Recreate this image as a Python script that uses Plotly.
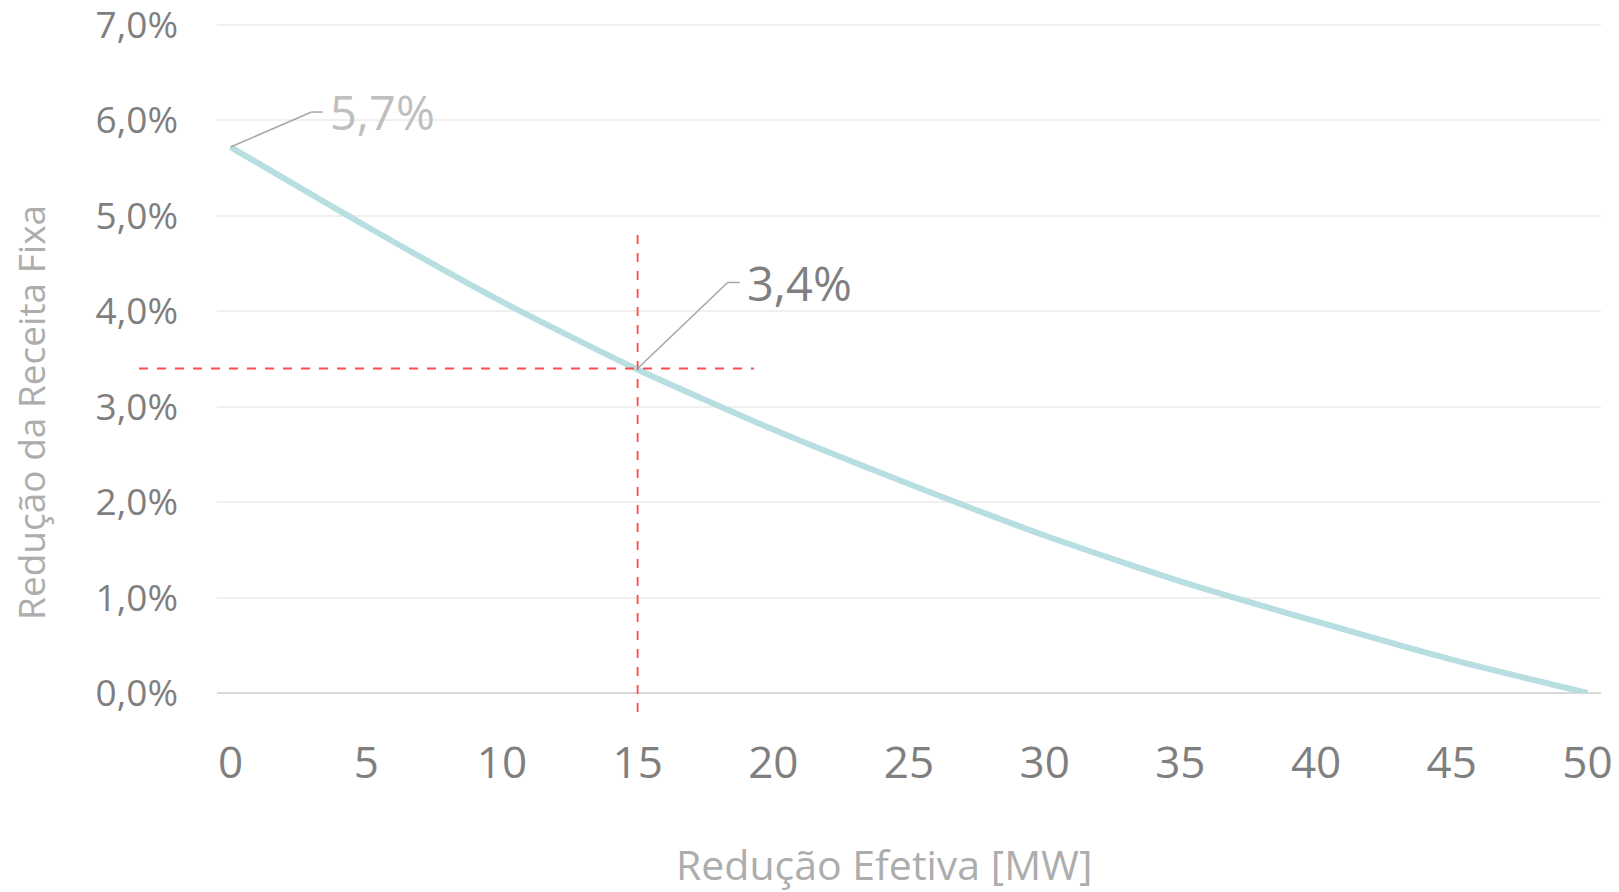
import plotly.graph_objects as go

# Data
reducao_mw = [0, 5, 10, 15, 20, 25, 30, 35, 40, 45, 50]
reducao_receita = [5.72, 4.89, 4.10, 3.39, 2.76, 2.19, 1.65, 1.17, 0.75, 0.35, 0.0]
x_ticks = [0, 5, 10, 15, 20, 25, 30, 35, 40, 45, 50]
y_ticks = [0, 1, 2, 3, 4, 5, 6, 7]
y_tick_labels = ["0,0%", "1,0%", "2,0%", "3,0%", "4,0%", "5,0%", "6,0%", "7,0%"]
ref_x = 15
ref_y = 3.4
label_first = "5,7%"
label_ref = "3,4%"
x_title = "Redução Efetiva [MW]"
y_title = "Redução da Receita Fixa"

FONT = "Open Sans"
OFF = 8  # page body margin
Y_TOP = 7.03
PX_PER_PCT = (693 - 25) / 7.0
PLOT_TOP = 693 - Y_TOP * PX_PER_PCT  # page px
W, H = 1619 - OFF, 892 - OFF
ML, MT = 217 - OFF, PLOT_TOP - OFF
MR = W - (1601 - OFF)
MB = H - (693 - OFF)
PW, PH = W - ML - MR, H - MT - MB

def px_to_paper_x(px):
    return (px - OFF - ML) / PW

def px_to_paper_y(py):
    return (H - MB - (py - OFF)) / PH

fig = go.Figure()
fig.add_trace(go.Scatter(
    x=reducao_mw, y=reducao_receita, mode="lines",
    line=dict(color="#B7DEE1", width=6, shape="spline", smoothing=0.6),
    hoverinfo="skip", showlegend=False,
))

shapes = []
shapes.append(dict(type="line", xref="x", yref="paper", x0=ref_x, x1=ref_x,
                   y0=px_to_paper_y(712), y1=px_to_paper_y(232),
                   line=dict(color="#FF4B4B", width=1.8, dash="dash")))
shapes.append(dict(type="line", xref="paper", yref="y", x0=px_to_paper_x(139), x1=px_to_paper_x(754),
                   y0=ref_y, y1=ref_y, line=dict(color="#FF4B4B", width=1.8, dash="dash")))

def leader(xa, ya, dx, dy, hx):
    return [
        dict(type="line", xref="x", yref="y", xsizemode="pixel", ysizemode="pixel",
             xanchor=xa, yanchor=ya, x0=0, y0=0, x1=dx, y1=dy,
             line=dict(color="#A6A6A6", width=1.5)),
        dict(type="line", xref="x", yref="y", xsizemode="pixel", ysizemode="pixel",
             xanchor=xa, yanchor=ya, x0=dx, y0=dy, x1=dx + hx, y1=dy,
             line=dict(color="#A6A6A6", width=1.5)),
    ]

shapes += leader(reducao_mw[0], reducao_receita[0], 81, 35, 11)
shapes += leader(ref_x, ref_y, 90, 86, 12)

annotations = [
    dict(x=reducao_mw[0], y=reducao_receita[0], xref="x", yref="y", text=label_first,
         showarrow=False, xanchor="left", yanchor="middle", xshift=97, yshift=35,
         font=dict(family=FONT, size=47, color="#BFBFBF")),
    dict(x=ref_x, y=ref_y, xref="x", yref="y", text=label_ref,
         showarrow=False, xanchor="left", yanchor="middle", xshift=107, yshift=85,
         font=dict(family=FONT, size=47, color="#7F7F7F")),
    dict(x=px_to_paper_x(884), y=px_to_paper_y(864), xref="paper", yref="paper",
         text=x_title, showarrow=False, xanchor="center", yanchor="middle",
         font=dict(family=FONT, size=41, color="#ADADAD")),
    dict(x=px_to_paper_x(31), y=px_to_paper_y(413), xref="paper", yref="paper",
         text=y_title, showarrow=False, textangle=-90, xanchor="center", yanchor="middle",
         font=dict(family=FONT, size=37, color="#ADADAD")),
]

fig.update_layout(
    width=W, height=H,
    margin=dict(l=ML, r=MR, t=MT, b=MB, pad=0),
    paper_bgcolor="white", plot_bgcolor="white",
    showlegend=False,
    shapes=shapes,
    annotations=annotations,
    xaxis=dict(range=[-0.5, 50.5], tickvals=x_ticks, ticktext=[str(v) for v in x_ticks],
               showgrid=False, zeroline=False, showline=False, ticks="",
               tickfont=dict(family=FONT, size=44, color="#7F7F7F"),
               ticklabelstandoff=40, automargin=False, ticklabeloverflow="allow"),
    yaxis=dict(range=[0, Y_TOP], tickvals=y_ticks, ticktext=y_tick_labels,
               showgrid=True, gridcolor="#F0F0F0", gridwidth=1.5,
               zeroline=True, zerolinecolor="#D9D9D9", zerolinewidth=2,
               showline=False, ticks="",
               tickfont=dict(family=FONT, size=37, color="#7F7F7F"),
               ticklabelstandoff=38, automargin=False, ticklabeloverflow="allow"),
)

fig.write_html("out.html")
